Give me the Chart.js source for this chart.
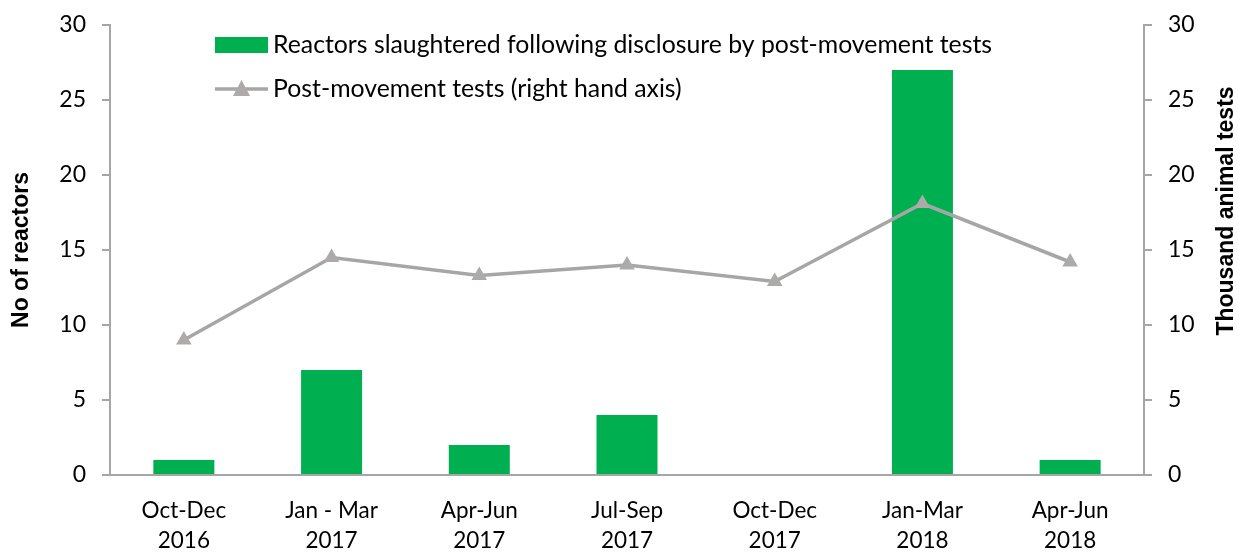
<!DOCTYPE html>
<html>
<head>
<meta charset="utf-8">
<script src="https://cdn.jsdelivr.net/npm/chart.js@4/dist/chart.umd.min.js"></script>
<style>
html,body{margin:0;padding:0;background:#fff;}
#wrap{position:relative;width:1239px;height:552px;}
</style>
</head>
<body>
<div id="wrap"><canvas id="c" width="1239" height="552"></canvas></div>
<script>
const categories = [["Oct-Dec","2016"],["Jan - Mar","2017"],["Apr-Jun","2017"],["Jul-Sep","2017"],["Oct-Dec","2017"],["Jan-Mar","2018"],["Apr-Jun","2018"]];
const reactors = [1, 7, 2, 4, 0, 27, 1];
const tests = [9.0, 14.5, 13.3, 14.0, 12.9, 18.1, 14.2];
const seriesNames = ["Reactors slaughtered following disclosure by post-movement tests", "Post-movement tests (right hand axis)"];
const leftTitle = "No of reactors";
const rightTitle = "Thousand animal tests";

const GREEN = '#00B050';
const LINE = '#A6A6A6';
const MARK = '#AEAAAA';
const AXIS = '#A6A6A6';
const FONT = 'Lato, "Open Sans", sans-serif';

const decor = {
  id: 'decor',
  afterDraw(chart) {
    const ctx = chart.ctx;
    ctx.save();
    ctx.fillStyle = '#000';
    ctx.font = 'bold 23px "Liberation Sans", Arial, sans-serif';
    ctx.textAlign = 'center';
    ctx.textBaseline = 'middle';
    ctx.save();
    ctx.translate(22, 250);
    ctx.rotate(-Math.PI/2);
    ctx.fillText(leftTitle, 0, 0);
    ctx.restore();
    ctx.save();
    ctx.translate(1227, 211);
    ctx.rotate(-Math.PI/2);
    ctx.fillText(rightTitle, 0, 0);
    ctx.restore();
    // legend
    ctx.fillStyle = GREEN;
    ctx.fillRect(215, 37, 53, 16);
    ctx.strokeStyle = LINE;
    ctx.lineWidth = 3.5;
    ctx.beginPath(); ctx.moveTo(215, 89); ctx.lineTo(268, 89); ctx.stroke();
    ctx.fillStyle = MARK;
    ctx.beginPath(); ctx.moveTo(241.5, 80); ctx.lineTo(250, 96); ctx.lineTo(233, 96); ctx.closePath(); ctx.fill();
    ctx.fillStyle = '#000';
    ctx.font = '24.8px ' + FONT;
    ctx.textAlign = 'left';
    ctx.fillText(seriesNames[0], 273, 45);
    ctx.fillText(seriesNames[1], 273, 89);
    ctx.restore();
  }
};

function fitY(w) {
  return function(s) { s.width = w; s.paddingTop = 0; s.paddingBottom = 0; };
}

new Chart(document.getElementById('c'), {
  data: {
    labels: categories,
    datasets: [
      {
        type: 'line', label: seriesNames[1], data: tests, yAxisID: 'y1',
        borderColor: LINE, borderWidth: 3.5, backgroundColor: MARK,
        pointStyle: 'triangle', pointRadius: 9, pointBorderWidth: 0, pointBackgroundColor: MARK,
        tension: 0, order: 0
      },
      {
        type: 'bar', label: seriesNames[0], data: reactors, yAxisID: 'y',
        backgroundColor: GREEN, borderWidth: 0,
        categoryPercentage: 1.0, barPercentage: 0.413, order: 1
      }
    ]
  },
  options: {
    responsive: false,
    animation: false,
    layout: { padding: { top: 25, left: 0, right: 0, bottom: 0 } },
    plugins: { legend: { display: false }, tooltip: { enabled: false } },
    scales: {
      x: {
        grid: { display: false },
        border: { display: true, color: AXIS, width: 2 },
        ticks: { color: '#000', font: { family: FONT, size: 22.5, lineHeight: 1.33 }, padding: 13, maxRotation: 0, autoSkip: false },
        afterFit(s) { s.height = 77; s.paddingLeft = 0; s.paddingRight = 0; }
      },
      y: {
        position: 'left', min: 0, max: 30,
        ticks: { stepSize: 5, color: '#000', font: { family: FONT, size: 23 }, padding: 16 },
        grid: { drawOnChartArea: false, drawTicks: true, tickLength: 8, color: AXIS, lineWidth: 2 },
        border: { display: true, color: AXIS, width: 2 },
        afterFit: fitY(110)
      },
      y1: {
        position: 'right', min: 0, max: 30,
        ticks: { stepSize: 5, color: '#000', font: { family: FONT, size: 23 }, padding: 16 },
        grid: { drawOnChartArea: false, drawTicks: true, tickLength: 8, color: AXIS, lineWidth: 2 },
        border: { display: true, color: AXIS, width: 2 },
        afterFit: fitY(95)
      }
    }
  },
  plugins: [decor]
});
</script>
</body>
</html>
